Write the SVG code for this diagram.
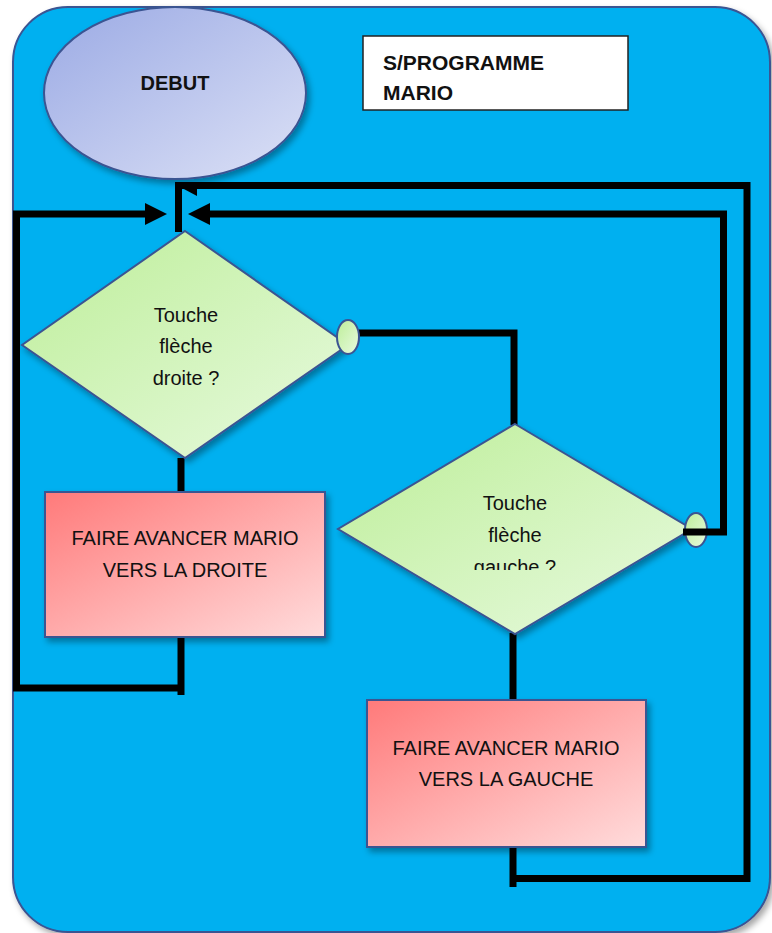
<svg xmlns="http://www.w3.org/2000/svg" width="772" height="933" viewBox="0 0 772 933">
<defs>
<linearGradient id="gEll" x1="0" y1="0" x2="1" y2="1">
<stop offset="0" stop-color="#9BAAE4"/><stop offset="1" stop-color="#DCE1F6"/>
</linearGradient>
<linearGradient id="gDia" x1="0" y1="0" x2="1" y2="1">
<stop offset="0" stop-color="#BDEE98"/><stop offset="1" stop-color="#E8FAE0"/>
</linearGradient>
<linearGradient id="gBox" x1="0" y1="0" x2="1" y2="1">
<stop offset="0" stop-color="#FF7A7A"/><stop offset="1" stop-color="#FFDCDC"/>
</linearGradient>
<filter id="sh" x="-10%" y="-10%" width="125%" height="125%">
<feDropShadow dx="3" dy="4" stdDeviation="3" flood-color="#000" flood-opacity="0.35"/>
</filter>
<clipPath id="clipTitle"><rect x="363" y="36" width="265" height="64"/></clipPath>
<clipPath id="clipD2"><rect x="338" y="424" width="354" height="146"/></clipPath>
<style>
.node{stroke:#3B5492;stroke-width:2}
.conn{fill:none;stroke:#000;stroke-width:7;stroke-linejoin:miter}
.arr{fill:#000}
.t{font-family:"Liberation Sans",Arial,sans-serif;fill:#111;text-anchor:middle}
.tb{font-family:"Liberation Sans",Arial,sans-serif;font-weight:bold;fill:#111}
</style>
</defs>
<rect x="0" y="0" width="772" height="933" fill="#fff"/>
<g id="background">
<rect x="13" y="7" width="757" height="925" rx="55" ry="55" fill="#00B0F0" stroke="#3B5492" stroke-width="2" filter="url(#sh)"/>
</g>
<g id="debut">
<ellipse cx="175" cy="93" rx="131" ry="86" fill="url(#gEll)" class="node" filter="url(#sh)"/>
<text x="175" y="90" class="tb" font-size="20" text-anchor="middle">DEBUT</text>
</g>
<g id="titre">
<rect x="363" y="36" width="265" height="74" fill="#fff" stroke="#222" stroke-width="1.5"/>
<g clip-path="url(#clipTitle)">
<text x="383" y="70" class="tb" font-size="21">S/PROGRAMME</text>
<text x="383" y="100" class="tb" font-size="21">MARIO</text>
</g>
</g>
<g id="connectors">
<path class="conn" d="M181,458 V492"/>
<path class="conn" d="M181,638 V695 M181,688 H16.5 V214 H148"/>
<polygon class="arr" points="167,214 145,203 145,225"/>
<path class="conn" d="M513,848 V887 M513,878.5 H747 V185.5 H178.5 V232"/>
<polygon class="arr" points="182,188 197,188 197,196"/>
<path class="conn" d="M723.5,532 V214 H207"/>
<polygon class="arr" points="188,214 210,203 210,225"/>
<path class="conn" d="M355,333 H514 V425"/>
<path class="conn" d="M513,633 V700"/>
</g>
<g id="decision1">
<polygon points="185,231 348,345 185,458 22,345" fill="url(#gDia)" class="node" filter="url(#sh)"/>
<ellipse cx="348" cy="337" rx="11" ry="17" fill="url(#gDia)" class="node"/>
<text x="186" y="322" class="t" font-size="20">Touche</text>
<text x="186" y="353" class="t" font-size="20">flèche</text>
<text x="186" y="385" class="t" font-size="20">droite ?</text>
</g>
<g id="decision2">
<polygon points="515,424 692,529 515,634 338,529" fill="url(#gDia)" class="node" filter="url(#sh)"/>
<ellipse cx="696" cy="530" rx="11" ry="17" fill="url(#gDia)" class="node"/>
<g clip-path="url(#clipD2)">
<text x="515" y="510" class="t" font-size="20">Touche</text>
<text x="515" y="542" class="t" font-size="20">flèche</text>
<text x="515" y="574" class="t" font-size="20">gauche ?</text>
</g>
</g>
<g id="connector-d2-right">
<path class="conn" d="M683,532 H723.5 V530"/>
</g>
<g id="action-droite">
<rect x="45" y="492" width="280" height="145" fill="url(#gBox)" class="node" filter="url(#sh)"/>
<text x="185" y="545" class="t" font-size="20">FAIRE AVANCER MARIO</text>
<text x="185" y="577" class="t" font-size="20">VERS LA DROITE</text>
</g>
<g id="action-gauche">
<rect x="367" y="700" width="279" height="147" fill="url(#gBox)" class="node" filter="url(#sh)"/>
<text x="506" y="755" class="t" font-size="20">FAIRE AVANCER MARIO</text>
<text x="506" y="786" class="t" font-size="20">VERS LA GAUCHE</text>
</g>
</svg>
